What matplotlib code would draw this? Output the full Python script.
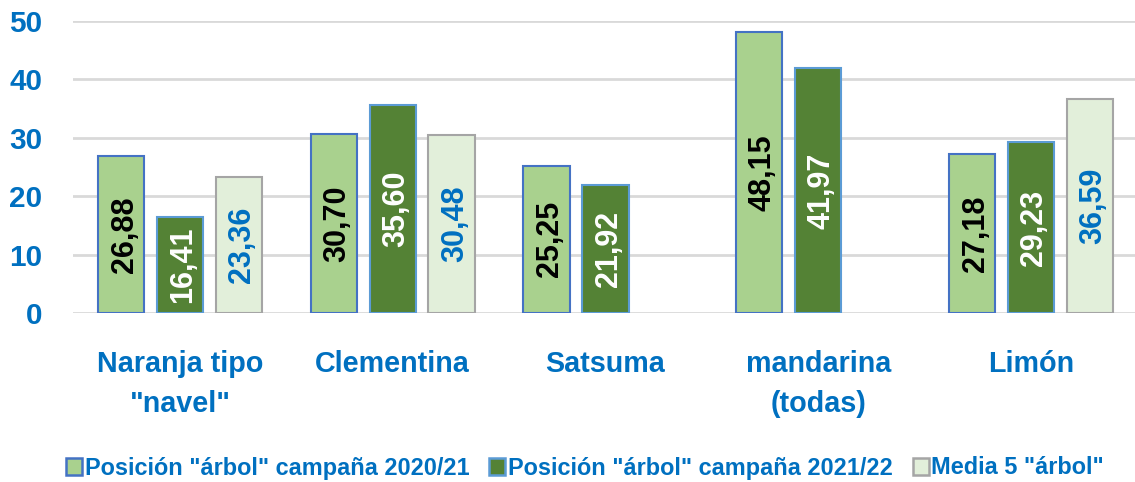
import numpy as np
import matplotlib
matplotlib.use("Agg")
import matplotlib.pyplot as plt
from matplotlib.patches import Patch

categories = ['Naranja tipo\n"navel"', 'Clementina', 'Satsuma', 'mandarina\n(todas)', 'Limón']
series_names = ['Posición "árbol" campaña 2020/21',
                'Posición "árbol" campaña 2021/22',
                'Media 5 "árbol"']
s2021 = [26.88, 30.70, 25.25, 48.15, 27.18]
s2122 = [16.41, 35.60, 21.92, 41.97, 29.23]
media5 = [23.36, 30.48, np.nan, np.nan, 36.59]
yticks = [0, 10, 20, 30, 40, 50]

BLUE = '#0070C0'
fills = ['#A9D18E', '#548235', '#E2EFDA']
edges = ['#4472C4', '#5B9BD5', '#A5A5A5']
label_colors = ['black', 'white', BLUE]

plt.rcParams['font.family'] = ['Liberation Sans', 'DejaVu Sans']
plt.rcParams['font.weight'] = 'bold'

W, H = 1135, 482
fig = plt.figure(figsize=(W / 100, H / 100), dpi=100)
ax = fig.add_axes([73 / W, 169 / H, 1 - 73 / W, 292 / H])

x = np.arange(len(categories))
offsets = [-0.277, 0.0, 0.277]
width = 0.218
data = [s2021, s2122, media5]

for i, vals in enumerate(data):
    vals = np.array(vals, dtype=float)
    mask = ~np.isnan(vals)
    ax.bar(x[mask] + offsets[i], vals[mask], width=width, color=fills[i],
           edgecolor=edges[i], linewidth=1.5, zorder=3)
    for xi, v in zip(x[mask] + offsets[i], vals[mask]):
        ax.text(xi, v / 2, f'{v:.2f}'.replace('.', ','), rotation=90,
                rotation_mode='anchor', ha='center', va='center_baseline',
                fontsize=22, fontweight='bold', color=label_colors[i], zorder=4)

ax.set_xlim(-0.503, 4.489)
ax.set_ylim(0, 50)
ax.set_yticks(yticks)
ax.set_yticklabels([str(t) for t in yticks], fontsize=21.4, fontweight='bold', color=BLUE)
ax.set_xticks(x)
ax.set_xticklabels(categories, fontsize=20.7, fontweight='bold', color=BLUE, linespacing=1.55)
ax.tick_params(axis='y', length=0, pad=22)
ax.tick_params(axis='x', length=0, pad=26.5)
ax.yaxis.grid(True, color='#D9D9D9', linewidth=2.0, zorder=0)
ax.set_axisbelow(True)
for s in ax.spines.values():
    s.set_visible(False)

handles = [Patch(facecolor=fills[i], edgecolor=edges[i], linewidth=1.8) for i in range(3)]
leg = fig.legend(handles, series_names, loc='center', bbox_to_anchor=(585 / W, 1 - 468 / H),
                 ncol=3, frameon=False, prop={'size': 16.9, 'weight': 'bold'},
                 handlelength=0.68, handleheight=0.72, handletextpad=0.12, columnspacing=0.85,
                 borderaxespad=0, borderpad=0)
for t in leg.get_texts():
    t.set_color(BLUE)

fig.savefig('out.png', dpi=100)
